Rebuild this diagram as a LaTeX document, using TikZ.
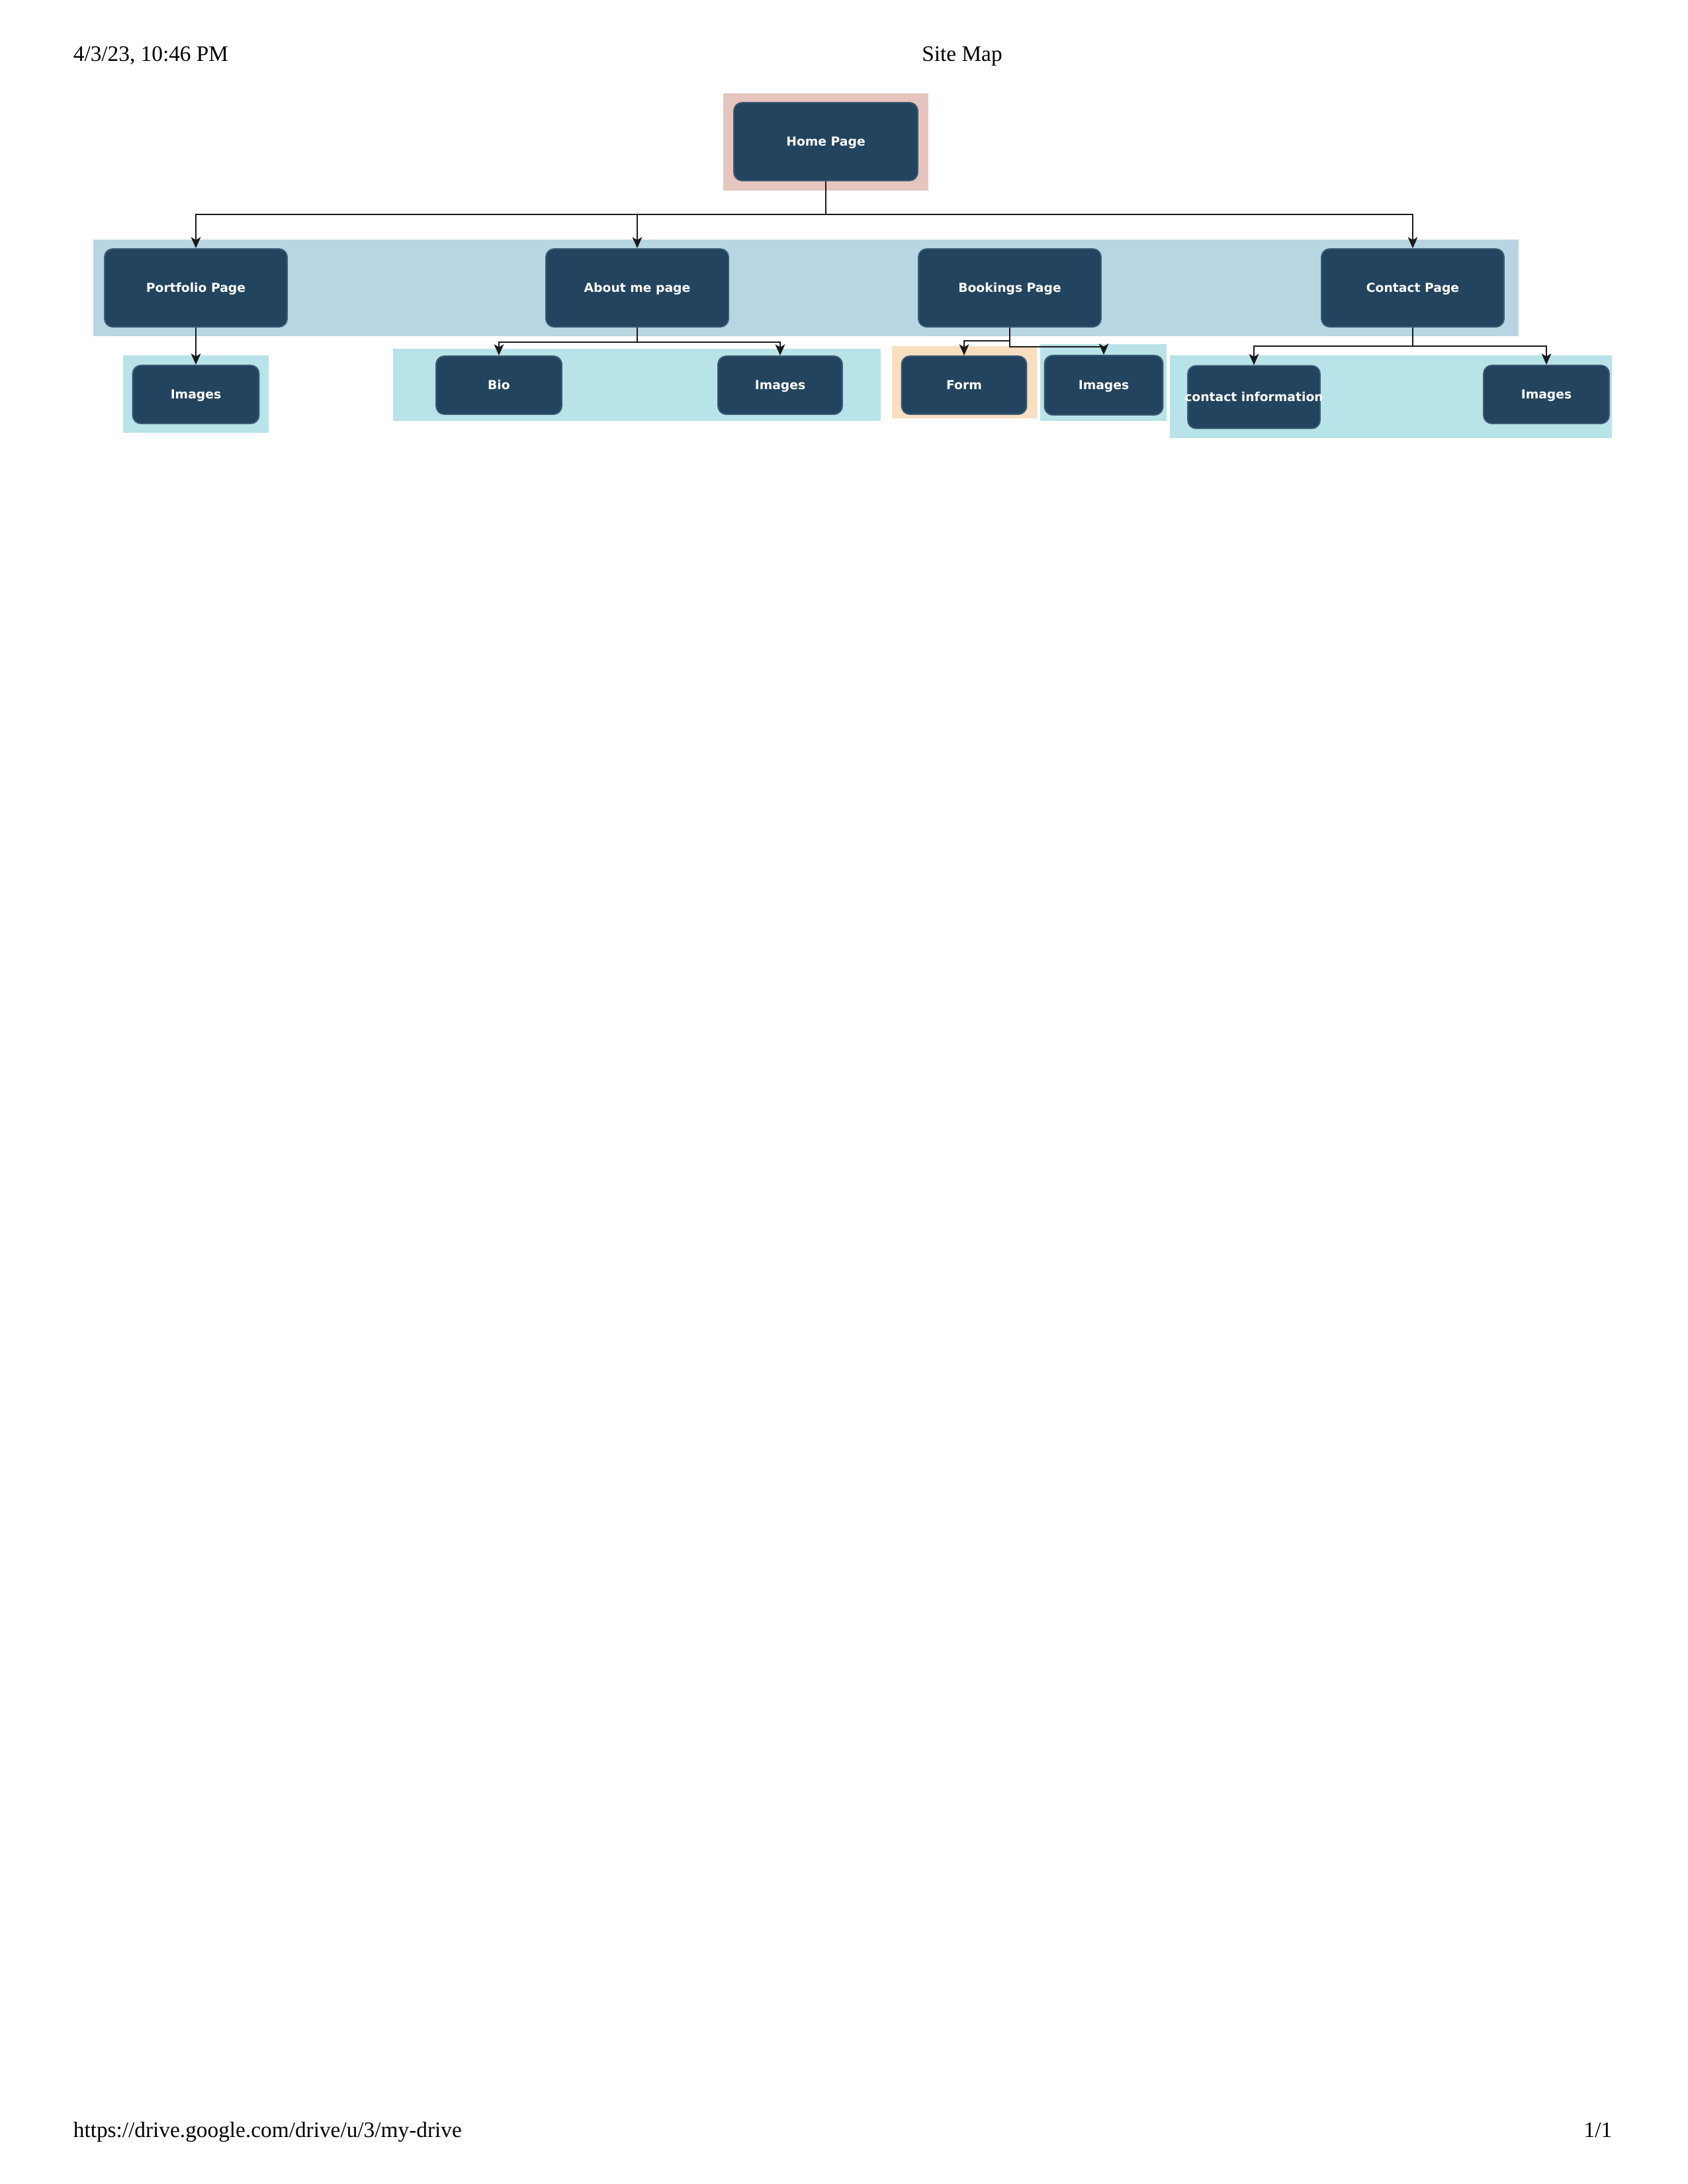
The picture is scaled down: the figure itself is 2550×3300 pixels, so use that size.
\documentclass[tikz,border=0pt]{standalone}
\usepackage{fontspec}
\setmainfont{Liberation Serif}
\newfontfamily\labelfont{DejaVu Sans}
\usetikzlibrary{arrows.meta}

\definecolor{boxfill}{HTML}{23445E}
\definecolor{boxline}{HTML}{3E5B74}
\definecolor{homebg}{HTML}{E6C5BF}
\definecolor{levelbg}{HTML}{B8D5E2}
\definecolor{subbg}{HTML}{B8E3E8}
\definecolor{formbg}{HTML}{FADEC0}
\definecolor{wire}{HTML}{1A1A1A}

\tikzset{
  sitebox/.style={draw=boxline, line width=0.45pt, fill=boxfill, rounded corners=3pt,
    inner sep=0pt, text=white, text height=3.25pt, text depth=0pt,
    font=\labelfont\bfseries\fontsize{4.5}{5}\selectfont},
  bigbox/.style={sitebox, minimum width=66.24pt, minimum height=28.32pt},
  smallbox/.style={sitebox, minimum width=45.6pt, minimum height=21.12pt},
  wirearrow/.style={draw=wire, line width=0.65pt,
    -{Stealth[length=4pt, width=3.5pt, inset=1pt]}},
  pagetext/.style={font=\fontsize{8}{9.6}\selectfont, inner sep=0pt}
}

\begin{document}
\begin{tikzpicture}[x=0.24pt, y=-0.24pt]
  \useasboundingbox (0,0) rectangle (2550,3300);
  \fill[white] (0,0) rectangle (2550,3300);

  % page header and footer
  \node[pagetext, anchor=base west] (date) at (110,92.5) {4/3/23, 10:46 PM};
  \node[pagetext, anchor=base] (title) at (1454,92.5) {Site Map};
  \node[pagetext, anchor=base west] (url) at (110,3229.5) {https://drive.google.com/drive/u/3/my-drive};
  \node[pagetext, anchor=base east] (pageno) at (2437,3229.5) {1/1};

  % group backgrounds
  \fill[homebg]  (1093,141) rectangle (1403,288);
  \fill[levelbg] (141,362)  rectangle (2295,508);
  \fill[subbg]   (186,537)  rectangle (406,654);
  \fill[subbg]   (594,527)  rectangle (1331,636);
  \fill[formbg]  (1348,523) rectangle (1567,632);
  \fill[subbg]   (1572,520) rectangle (1763,636);
  \fill[subbg]   (1768,537) rectangle (2436,662);

  % pages
  \node[bigbox, minimum width=66.72pt] (home) at (1248,214) {Home Page};
  \node[bigbox] (portfolio) at (296,435)  {Portfolio Page};
  \node[bigbox] (about)     at (963,435)  {About me page};
  \node[bigbox] (bookings)  at (1526,435) {Bookings Page};
  \node[bigbox] (contact)   at (2135,435) {Contact Page};

  \node[smallbox, minimum width=45.84pt] (pimages) at (296,596) {Images};
  \node[smallbox] (bio)     at (754,582)  {Bio};
  \node[smallbox, minimum width=45.12pt] (aimages) at (1179,582) {Images};
  \node[smallbox, minimum width=45.36pt] (form) at (1457,582) {Form};
  \node[smallbox, minimum width=42.96pt, minimum height=21.6pt] (bimages) at (1668,582) {Images};
  \node[smallbox, minimum width=48pt, minimum height=22.8pt] (cinfo) at (1895,600)
    {\makebox[0pt][c]{contact information}};
  \node[smallbox] (cimages) at (2337,596) {Images};

  % junction points of the connectors
  \coordinate (homebus)  at (1248,324);
  \coordinate (aboutbus) at (963,517);
  \coordinate (formbus)  at (1526,515);
  \coordinate (bimgbus)  at (1526,524);
  \coordinate (contbus)  at (2135,523);

  % connectors
  \draw[wirearrow] (home.south) -- (homebus) -| (portfolio.north);
  \draw[wirearrow] (home.south) -- (homebus) -| (about.north);
  \draw[wirearrow] (home.south) -- (homebus) -| (contact.north);

  \draw[wirearrow] (portfolio.south) -- (pimages.north);

  \draw[wirearrow] (about.south) -- (aboutbus) -| (bio.north);
  \draw[wirearrow] (about.south) -- (aboutbus) -| (aimages.north);

  \draw[wirearrow] (bookings.south) -- (formbus) -| (form.north);
  \draw[wirearrow] (bookings.south) -- (bimgbus) -| (bimages.north);

  \draw[wirearrow] (contact.south) -- (contbus) -| (cinfo.north);
  \draw[wirearrow] (contact.south) -- (contbus) -| (cimages.north);
\end{tikzpicture}
\end{document}
